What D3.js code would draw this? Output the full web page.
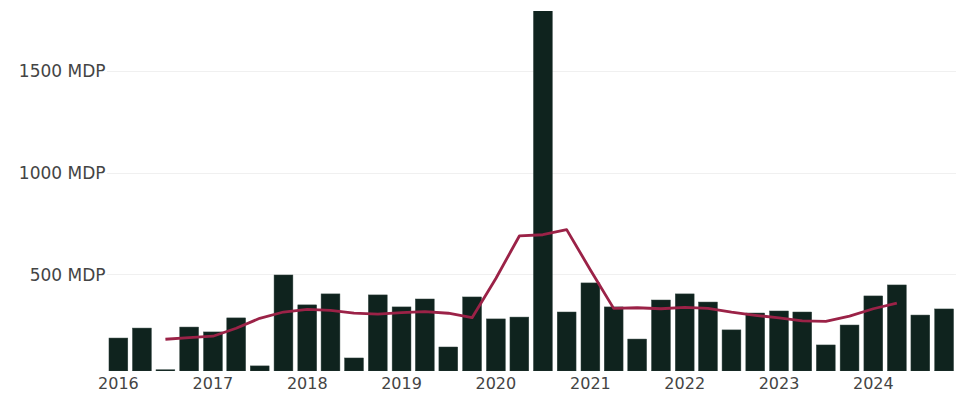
<!DOCTYPE html>
<html>
<head>
<meta charset="utf-8">
<script src="https://cdn.jsdelivr.net/npm/d3@7"></script>
<style>
  body { margin: 0; background: #fff; }
  svg { display: block; font-family: "DejaVu Sans", Verdana, sans-serif; }
</style>
</head>
<body>
<div id="chart"></div>
<script>
  // quarterly amounts, MDP (millones de pesos)
  var quarters = [
    '2016-01-01', '2016-04-01', '2016-07-01', '2016-10-01',
    '2017-01-01', '2017-04-01', '2017-07-01', '2017-10-01',
    '2018-01-01', '2018-04-01', '2018-07-01', '2018-10-01',
    '2019-01-01', '2019-04-01', '2019-07-01', '2019-10-01',
    '2020-01-01', '2020-04-01', '2020-07-01', '2020-10-01',
    '2021-01-01', '2021-04-01', '2021-07-01', '2021-10-01',
    '2022-01-01', '2022-04-01', '2022-07-01', '2022-10-01',
    '2023-01-01', '2023-04-01', '2023-07-01', '2023-10-01',
    '2024-01-01', '2024-04-01', '2024-07-01', '2024-10-01'
  ];
  var amounts = [
    187, 236, 31, 241,
    217, 286, 50, 497,
    350, 404, 89, 399,
    340, 379, 143, 389,
    281, 290, 1800, 315,
    458, 340, 182, 374,
    404, 364, 227, 310,
    320, 315, 153, 251,
    394, 448, 300, 330
  ];
  // moving average, 2016 Q3 .. 2024 Q2
  var avgStart = 2;
  var average = [
    181, 189,
    196, 235, 284, 315,
    328, 323, 310, 305,
    312, 317, 309, 287,
    480, 689, 695, 720,
    522, 333, 336, 331,
    338, 333, 314, 299,
    286, 271, 269, 295,
    331, 359
  ];
  var yTicks = [500, 1000, 1500];
  var xTicks = ['2016', '2017', '2018', '2019', '2020', '2021', '2022', '2023', '2024'];

  var w = 979, h = 408;
  var parse = d3.timeParse('%Y-%m-%d');
  var dates = quarters.map(parse);

  var svg = d3.select('#chart').append('svg')
    .attr('width', w)
    .attr('height', h);

  var x = d3.scaleTime()
    .domain([d3.timeDay.offset(dates[0], -46), d3.timeDay.offset(dates[dates.length - 1], 46)])
    .range([106.5, 956]);
  var y = d3.scaleLinear()
    .domain([25, 1795])
    .range([371, 11]);

  var barW = 18.8;

  svg.append('defs').append('clipPath').attr('id', 'plot')
    .append('rect')
    .attr('x', 106.5).attr('y', 11)
    .attr('width', 956 - 106.5).attr('height', 360);

  // grid + y labels
  svg.append('g')
    .selectAll('line')
    .data(yTicks)
    .join('line')
    .attr('x1', 107).attr('x2', 956)
    .attr('y1', function (d) { return Math.round(y(d)) + 0.5; })
    .attr('y2', function (d) { return Math.round(y(d)) + 0.5; })
    .attr('stroke', '#f0f0f0')
    .attr('stroke-width', 1);

  svg.append('g')
    .selectAll('text')
    .data(yTicks)
    .join('text')
    .attr('x', 105.5)
    .attr('y', function (d) { return y(d); })
    .attr('dy', '0.36em')
    .attr('text-anchor', 'end')
    .attr('fill', '#444')
    .style('font-size', '17px')
    .text(function (d) { return d + ' MDP'; });

  // bars
  svg.append('g')
    .attr('clip-path', 'url(#plot)')
    .selectAll('rect')
    .data(amounts)
    .join('rect')
    .attr('x', function (d, i) { return x(dates[i]) - barW / 2; })
    .attr('y', function (d) { return y(d); })
    .attr('width', barW)
    .attr('height', function (d) { return Math.max(0, y(25) - y(d)); })
    .attr('fill', '#0f231e')
    .attr('stroke', '#2c3f3a')
    .attr('stroke-width', 0.5);

  // average line
  var line = d3.line()
    .x(function (d, i) { return x(dates[i + avgStart]); })
    .y(function (d) { return y(d); })
    .curve(d3.curveLinear);

  svg.append('path')
    .datum(average)
    .attr('d', line)
    .attr('fill', 'none')
    .attr('stroke', '#9b2247')
    .attr('stroke-width', 2.8)
    .attr('stroke-linejoin', 'round');

  // x labels
  svg.append('g')
    .selectAll('text')
    .data(xTicks)
    .join('text')
    .attr('x', function (d) { return x(parse(d + '-01-01')); })
    .attr('y', 388.5)
    .attr('text-anchor', 'middle')
    .attr('fill', '#444')
    .style('font-size', '16px')
    .text(function (d) { return d; });
</script>
</body>
</html>
